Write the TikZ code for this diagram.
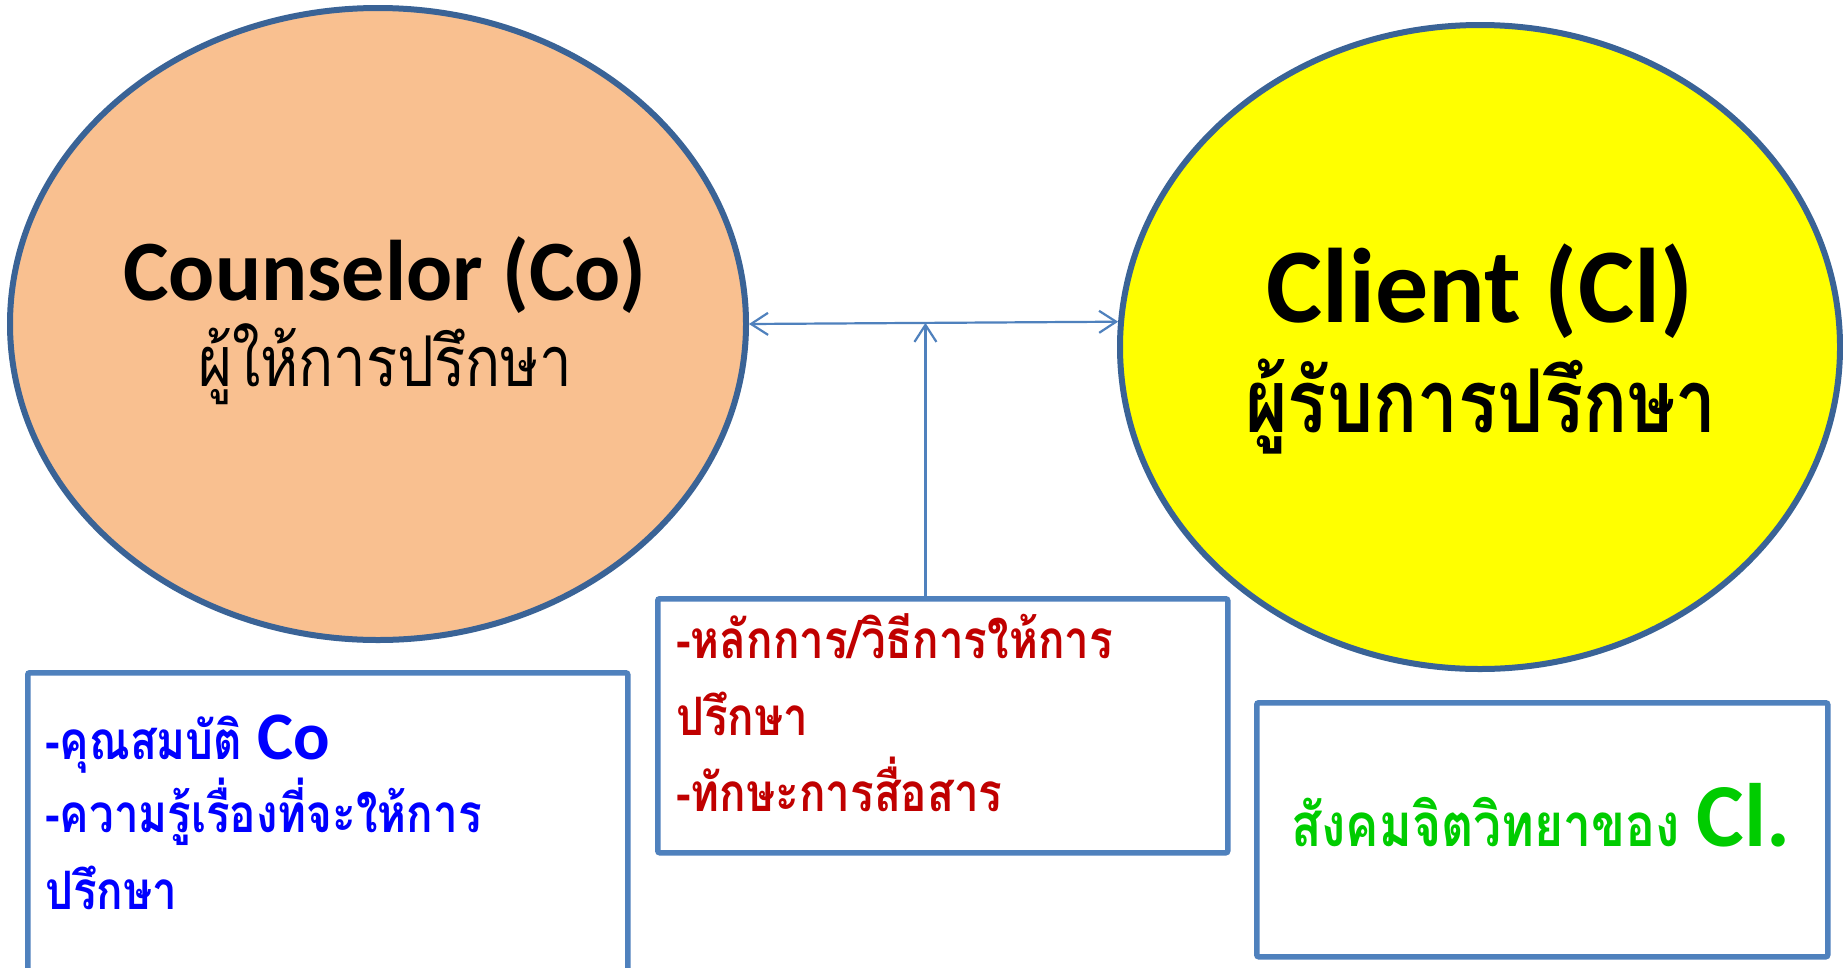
\documentclass[tikz,border=0pt]{standalone}
\usepackage{fontspec}
\usetikzlibrary{shapes.geometric,arrows.meta,calc}
\newfontfamily\thaifont[Script=Thai,FakeStretch=0.83]{Loma}
\newfontfamily\latfont{Carlito}
\definecolor{outl}{HTML}{3A6396}
\definecolor{boxl}{HTML}{4F81BD}
\definecolor{peach}{HTML}{F9C090}
\definecolor{tred}{HTML}{C00000}
\definecolor{tblue}{HTML}{0000FF}
\definecolor{tgreen}{HTML}{00CC00}
\definecolor{cyellow}{HTML}{FFFF00}
\begin{document}
\begin{tikzpicture}[x=1pt,y=-1pt,
  circ/.style={ellipse,draw=outl,line width=6pt,inner sep=0pt},
  panel/.style={rectangle,draw=boxl,line width=5.5pt,inner sep=0pt,fill=white,rounded corners=2pt,anchor=north west},
  conn/.style={draw=boxl,line width=2.2pt,>={Straight Barb[length=17pt,width=22pt]}},
  bigname/.style={anchor=base,inner sep=0pt,font=\latfont\bfseries},
  thaibig/.style={anchor=base,inner sep=0pt},
  line/.style={anchor=base west,inner sep=0pt}
]
\useasboundingbox (0,0) rectangle (1843,967);
\clip (0,0) rectangle (1843,967);
\fill[white] (0,0) rectangle (1843,967);

\node[circ,fill=peach,minimum width=736pt,minimum height=632pt] (co) at (378,324) {};
\node[circ,fill=cyellow,minimum width=720pt,minimum height=644pt] (cl) at (1480,347) {};

\node[bigname,font=\latfont\bfseries\fontsize{86pt}{100pt}\selectfont] (cot) at (385,300) {Counselor (Co)};
\node[thaibig,font=\thaifont\fontsize{70pt}{80pt}\selectfont] (coth) at (385,386) {ผู้ให้การปรึกษา};
\node[bigname,font=\latfont\bfseries\fontsize{106pt}{120pt}\selectfont] (clt) at (1480,322) {Client (Cl)};
\node[thaibig,font=\thaifont\bfseries\fontsize{88pt}{100pt}\selectfont] (clth) at (1481,432) {ผู้รับการปรึกษา};

\node[panel,minimum width=600pt,minimum height=330pt] (kb) at (25,670) {};
\node[panel,minimum width=570pt,minimum height=254pt] (mb) at (655,596) {};
\node[panel,minimum width=571pt,minimum height=254pt] (rb) at (1254,700) {};

\coordinate (ea) at (co.0.5);
\coordinate (eb) at (cl.176);
\coordinate (meet) at ($(ea)!0.478!(eb)$);
\draw[conn,<->] (ea) -- (eb);
\draw[conn,->] (mb.north -| meet) -- (meet);

\begin{scope}[every node/.style={line,text=tblue,font=\thaifont\bfseries\fontsize{53pt}{60pt}\selectfont}]
\node (k1) at (45,759) {-คุณสมบัติ {\latfont\bfseries\fontsize{68pt}{70pt}\selectfont Co}};
\node (k2) at (45,832) {-ความรู้เรื่องที่จะให้การ};
\node (k3) at (45,909) {ปรึกษา};
\end{scope}
\begin{scope}[every node/.style={line,text=tred,font=\thaifont\bfseries\fontsize{53pt}{60pt}\selectfont}]
\node (m1) at (676,658) {-หลักการ/วิธีการให้การ};
\node (m2) at (676,735) {ปรึกษา};
\node (m3) at (676,811) {-ทักษะการสื่อสาร};
\end{scope}
\node[line,text=tgreen,font=\thaifont\bfseries\fontsize{60pt}{60pt}\selectfont] (r1) at (1291,846) {สังคมจิตวิทยาของ {\latfont\bfseries\fontsize{90pt}{80pt}\selectfont Cl.}};
\end{tikzpicture}
\end{document}
